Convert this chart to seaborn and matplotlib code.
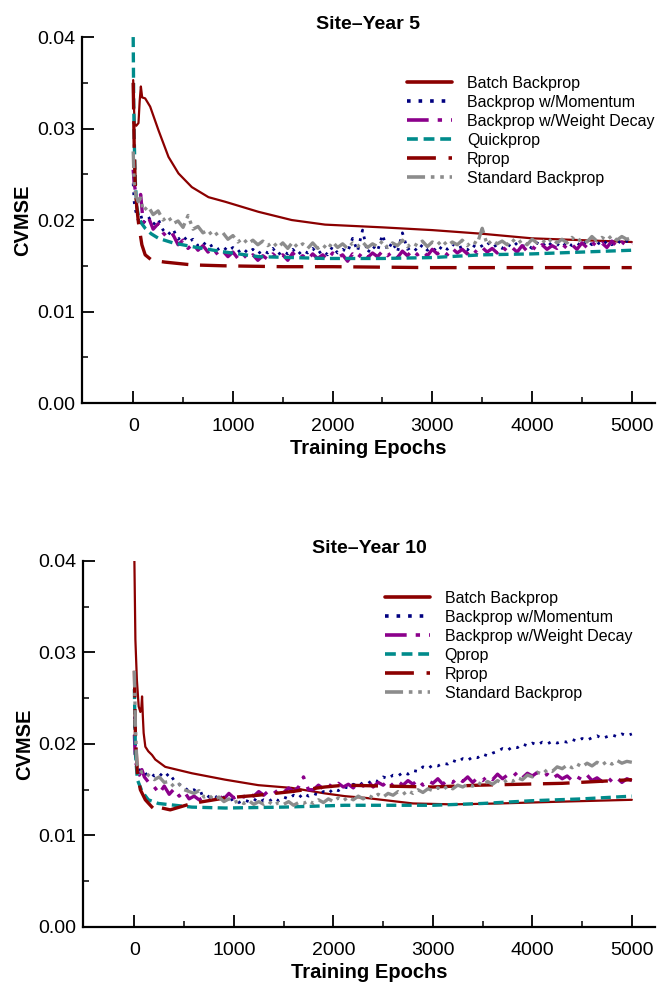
import matplotlib
matplotlib.use("Agg")
import matplotlib.pyplot as plt
from matplotlib.ticker import FixedLocator, FormatStrFormatter
import seaborn as sns
import pandas as pd

# CVMSE values below in units of 1e-3

# noisy series share one epoch grid
noisy_epochs = [0, 10, 25, 50, 75, 100, 150, 200, 250] + list(range(300, 5001, 50))

# ---- Site-Year 5 ----
y5_batch_epochs = [0, 5, 15, 30, 53, 65, 77, 90, 120, 170, 254, 354, 454, 588, 755, 922,
                   1256, 1590, 1924, 2500, 3000, 3500, 4000, 4500, 5000]
y5_batch = [35.3, 33.0, 30.5, 30.3, 30.6, 33.0, 34.6, 33.4, 33.3, 32.4, 29.8, 26.9, 25.1, 23.6, 22.5, 22.0,
            20.9, 20.0, 19.5, 19.2, 18.9, 18.5, 18.0, 17.8, 17.6]

y5_momentum = [24.0, 22.0, 21.0, 20.0, 20.6, 19.6, 20.4, 19.5, 20.1,
               18.9, 18.4, 19.0, 17.9, 18.3, 17.6, 17.9, 17.2, 17.6, 17.0,
               17.3, 16.8, 17.1, 16.6, 17.0, 16.5, 16.9, 16.4, 16.8, 16.3,
               16.7, 16.4, 16.9, 16.2, 16.6, 16.3, 16.8, 16.2, 16.7, 16.4,
               16.9, 16.3, 16.7, 16.2, 17.1, 16.4, 16.8, 16.5, 18.0, 16.6,
               18.9, 16.4, 17.2, 16.6, 18.4, 16.7, 17.6, 16.5, 18.6, 16.8,
               17.1, 16.6, 17.3, 16.7, 17.0, 16.5, 17.2, 16.8, 17.4, 16.9,
               17.1, 16.7, 17.3, 16.9, 17.2, 17.6, 17.0, 17.3, 16.9, 17.4,
               17.0, 17.5, 17.1, 17.3, 16.9, 17.5, 17.1, 17.7, 17.2, 17.4,
               17.0, 17.6, 17.2, 17.5, 17.1, 17.8, 17.3, 17.6, 17.2, 17.7,
               17.3, 17.8, 17.4, 17.7, 17.5]

y5_decay = [25.5, 24.0, 23.0, 21.9, 22.8, 19.7, 20.4, 19.0, 19.6,
            18.6, 18.0, 18.4, 17.3, 17.8, 16.9, 17.4, 16.7, 17.2, 16.5,
            16.9, 16.2, 16.6, 16.0, 16.5, 15.8, 16.3, 15.7, 16.2, 15.6,
            16.1, 15.7, 16.3, 15.8, 16.2, 15.6, 16.4, 15.8, 16.1, 15.7,
            16.3, 15.8, 16.2, 15.7, 16.4, 15.9, 16.2, 15.5, 16.3, 15.8,
            16.5, 15.9, 16.4, 16.0, 16.6, 16.1, 16.5, 15.9, 16.6, 16.1,
            16.7, 16.2, 16.6, 16.1, 16.8, 16.3, 16.7, 16.2, 16.9, 16.4,
            16.8, 16.3, 16.9, 16.4, 17.0, 16.5, 16.9, 16.4, 17.1, 16.6,
            17.0, 16.5, 17.2, 16.6, 17.1, 16.7, 17.3, 16.8, 17.2, 16.9,
            17.4, 16.9, 17.3, 16.8, 17.5, 17.0, 17.6, 17.1, 17.5, 17.0,
            17.7, 17.1, 17.6, 17.2, 17.5]

y5_quick_epochs = [0, 5, 10, 20, 35, 53, 80, 120, 180, 254, 400, 588, 750, 922,
                   1256, 1600, 1924, 2500, 3000, 3500, 4000, 4500, 5000]
y5_quick = [40.0, 33.0, 29.0, 24.5, 21.5, 20.4, 19.7, 19.1, 18.5, 18.0, 17.5, 17.1, 16.8, 16.5,
            16.0, 15.9, 15.8, 15.8, 15.9, 16.2, 16.3, 16.5, 16.7]

y5_rprop_epochs = [0, 10, 20, 35, 53, 87, 120, 187, 320, 588, 900, 1500, 2000, 3000, 4000, 5000]
y5_rprop = [35.0, 28.0, 24.0, 21.5, 19.7, 17.3, 16.2, 15.6, 15.4, 15.1, 15.0, 14.9, 14.9, 14.8, 14.8, 14.8]

y5_standard = [27.5, 24.0, 22.8, 22.0, 22.4, 21.0, 21.5, 20.6, 21.0,
               20.0, 20.4, 19.6, 19.9, 19.2, 20.5, 19.0, 19.3, 18.6, 18.9,
               18.2, 18.6, 18.6, 17.9, 18.3, 17.6, 18.0, 17.4, 17.8, 17.3,
               17.7, 17.2, 17.6, 17.0, 17.5, 16.9, 17.6, 17.0, 17.4, 16.9,
               17.5, 16.9, 17.3, 16.8, 17.6, 17.0, 17.4, 16.9, 17.5, 17.1,
               17.6, 17.0, 17.4, 17.1, 17.7, 17.0, 17.5, 17.2, 17.8, 17.1,
               17.5, 17.2, 17.7, 17.1, 17.6, 17.3, 17.8, 17.2, 17.6, 17.3,
               17.8, 17.2, 17.7, 17.4, 19.1, 17.3, 17.8, 17.4, 17.7, 17.3,
               17.9, 17.4, 17.8, 17.3, 17.9, 17.5, 17.8, 17.4, 18.0, 17.5,
               17.9, 17.5, 18.1, 17.6, 18.0, 17.6, 18.2, 17.7, 18.1, 17.8,
               18.3, 17.8, 18.2, 17.9, 18.1]

# ---- Site-Year 10 ----
y10_batch_epochs = [0, 10, 25, 43, 60, 70, 77, 85, 93, 110, 140, 177, 210, 310, 578, 912,
                    1245, 1580, 1914, 2114, 2330, 2800, 3200, 3670, 4300, 5000]
y10_batch = [40.0, 31.4, 27.0, 24.1, 23.5, 24.0, 25.2, 23.0, 21.2, 19.7, 19.2, 18.8, 18.3, 17.5, 16.8, 16.1,
             15.5, 15.2, 14.6, 14.3, 14.1, 13.5, 13.4, 13.5, 13.7, 13.9]

y10_momentum = [23.0, 19.5, 17.5, 17.2, 16.8, 16.6, 16.9, 16.5, 16.8,
                16.3, 16.8, 16.0, 15.6, 15.3, 14.8, 15.0, 14.5, 14.7, 14.2,
                14.4, 14.0, 14.2, 13.8, 14.0, 13.6, 13.9, 13.7, 14.0, 13.6,
                13.9, 13.7, 14.1, 13.8, 14.2, 14.0, 14.4, 14.1, 14.6, 14.3,
                14.6, 14.4, 14.8, 14.6, 15.1, 14.9, 15.3, 15.2, 15.6, 15.4,
                15.8, 15.7, 16.1, 15.9, 16.4, 16.2, 16.6, 16.5, 16.9, 16.7,
                17.1, 17.0, 17.5, 17.3, 17.7, 17.6, 17.9, 17.8, 18.2, 18.0,
                18.4, 18.2, 18.6, 18.5, 18.9, 18.7, 19.0, 19.2, 19.5, 19.3,
                19.7, 19.6, 20.0, 19.8, 20.1, 19.9, 20.2, 20.0, 20.3, 20.1,
                20.3, 20.2, 20.5, 20.3, 20.6, 20.4, 20.7, 20.9, 20.6, 20.8,
                21.0, 20.8, 21.1, 20.9, 21.1]

y10_decay = [21.0, 18.0, 17.6, 16.6, 17.2, 16.4, 15.7, 15.3, 14.6,
             15.4, 14.5, 15.1, 14.3, 14.8, 14.0, 14.3, 13.9, 14.2, 13.9,
             14.1, 14.3, 14.0, 14.6, 14.1, 14.5, 14.2, 14.7, 14.3, 14.8,
             14.4, 14.9, 14.6, 15.0, 14.7, 15.2, 14.8, 15.3, 16.4, 15.0,
             15.0, 15.5, 15.1, 15.6, 15.2, 15.7, 15.3, 15.6, 15.2, 15.8,
             15.4, 15.9, 15.3, 15.8, 15.5, 16.0, 15.4, 15.9, 15.5, 16.0,
             15.6, 16.1, 15.5, 16.0, 15.7, 16.2, 15.6, 16.1, 15.8, 16.3,
             15.9, 16.4, 15.8, 16.3, 16.0, 16.5, 16.1, 16.7, 16.2, 16.6,
             16.4, 16.9, 16.3, 16.8, 16.5, 16.9, 16.4, 16.7, 16.2, 16.6,
             16.2, 16.5, 16.0, 16.4, 16.1, 16.6, 16.0, 16.3, 15.9, 16.4,
             15.9, 16.3, 15.8, 16.2, 16.0]

y10_qprop_epochs = [0, 10, 30, 77, 140, 240, 578, 912, 1500, 2114, 2500, 3000,
                    3500, 4000, 4500, 5000]
y10_qprop = [26.0, 19.0, 16.1, 14.8, 13.9, 13.5, 13.1, 13.0, 13.1, 13.3, 13.3, 13.3,
             13.5, 13.8, 14.0, 14.3]

y10_rprop_epochs = [0, 10, 30, 60, 110, 177, 227, 277, 360, 578, 912, 1245, 1580, 1914,
                    2114, 2500, 3000, 3470, 4300, 5000]
y10_rprop = [28.0, 21.0, 16.8, 15.0, 13.9, 13.1, 12.6, 13.0, 12.8, 13.5, 14.1, 14.4, 14.8, 15.3,
             15.5, 15.4, 15.3, 15.5, 15.7, 16.1]

y10_standard = [28.0, 22.0, 17.8, 17.3, 16.9, 17.0, 16.5, 16.1, 16.4,
                15.8, 15.9, 15.3, 15.6, 15.0, 14.8, 14.6, 14.9, 14.2, 14.4,
                13.9, 14.2, 13.7, 14.0, 13.6, 13.8, 13.5, 13.8, 13.4, 13.7,
                13.4, 13.7, 13.3, 13.6, 13.4, 13.7, 13.3, 13.6, 13.5, 13.8,
                13.5, 13.9, 13.6, 14.0, 13.7, 14.1, 13.8, 14.2, 13.9, 14.3,
                14.0, 14.4, 14.1, 14.5, 14.2, 14.6, 14.4, 14.8, 14.5, 14.9,
                14.6, 15.0, 14.7, 15.1, 14.9, 15.2, 15.0, 15.4, 15.1, 15.5,
                15.3, 15.6, 15.4, 15.8, 15.5, 15.9, 15.6, 16.0, 15.7, 16.1,
                15.9, 16.3, 16.1, 16.6, 16.4, 16.9, 16.7, 17.2, 17.0, 17.5,
                17.3, 17.7, 17.4, 17.8, 17.5, 17.9, 17.6, 18.0, 17.7, 18.1,
                17.8, 18.2, 17.9, 18.1, 18.0]

labels_y5 = ["Batch Backprop", "Backprop w/Momentum", "Backprop w/Weight Decay",
             "Quickprop", "Rprop", "Standard Backprop"]
labels_y10 = ["Batch Backprop", "Backprop w/Momentum", "Backprop w/Weight Decay",
              "Qprop", "Rprop", "Standard Backprop"]

# color, linestyle, linewidth per legend slot
styles = [
    ("#8b0000", "-", 1.6),
    ("#000080", (0, (1, 2.2)), 2.0),
    ("#8b008b", (0, (6, 2.5, 1.2, 2.5)), 2.4),
    ("#008b8b", (0, (3, 1.6)), 2.4),
    ("#8b0000", (0, (8, 3.5)), 2.4),
    ("#8c8c8c", (0, (5, 1.6, 1, 1.6, 1, 1.6)), 2.4),
]

sns.set_style("ticks")
plt.rcParams["font.family"] = ["Liberation Sans", "DejaVu Sans"]
plt.rcParams["text.color"] = "black"
plt.rcParams["axes.labelcolor"] = "black"
plt.rcParams["xtick.color"] = "black"
plt.rcParams["ytick.color"] = "black"


def panel(ax, series, labels, title, anchor):
    for (x, y), name, (color, ls, lw) in zip(series, labels, styles):
        df = pd.DataFrame({"Epoch": x, "CVMSE": [v / 1000 for v in y]})
        sns.lineplot(data=df, x="Epoch", y="CVMSE", ax=ax, color=color,
                     linestyle=ls, linewidth=lw, label=name, estimator=None, sort=False)
    ax.set_xlim(-515, 5230)
    ax.set_ylim(0, 0.04)
    ax.xaxis.set_major_locator(FixedLocator([0, 1000, 2000, 3000, 4000, 5000]))
    ax.xaxis.set_minor_locator(FixedLocator([500, 1500, 2500, 3500, 4500]))
    ax.yaxis.set_major_locator(FixedLocator([0, 0.01, 0.02, 0.03, 0.04]))
    ax.yaxis.set_minor_locator(FixedLocator([0.005, 0.015, 0.025, 0.035]))
    ax.yaxis.set_major_formatter(FormatStrFormatter("%.2f"))
    ax.tick_params(which="major", direction="in", length=8.5, width=1.3,
                   labelsize=14, pad=5, color="black", labelcolor="black")
    ax.tick_params(axis="x", which="major", pad=11)
    ax.tick_params(which="minor", direction="in", length=4.5, width=1.1, color="black")
    sns.despine(ax=ax)
    for s in ("left", "bottom"):
        ax.spines[s].set_linewidth(1.6)
        ax.spines[s].set_color("black")
    ax.set_title(title, fontsize=14, fontweight="bold", pad=6, color="black")
    ax.set_xlabel("Training Epochs", fontsize=14.5, fontweight="bold", labelpad=3, color="black")
    ax.set_ylabel("CVMSE", fontsize=14.5, fontweight="bold", labelpad=3, color="black")
    leg = ax.legend(loc="upper left", bbox_to_anchor=anchor, bbox_transform=fig.transFigure,
                    frameon=False, fontsize=11.5, handlelength=2.8, handletextpad=0.95,
                    labelspacing=0.25, borderpad=0, borderaxespad=0)
    for t in leg.get_texts():
        t.set_color("black")
    for h in leg.get_lines():
        h.set_linewidth(2.6)


fig = plt.figure(figsize=(6.6, 9.83), dpi=100)
ax1 = fig.add_axes([0.124, 0.590, 0.868, 0.3723])
ax2 = fig.add_axes([0.126, 0.057, 0.866, 0.3723])

series_y5 = [(y5_batch_epochs, y5_batch), (noisy_epochs, y5_momentum), (noisy_epochs, y5_decay),
             (y5_quick_epochs, y5_quick), (y5_rprop_epochs, y5_rprop), (noisy_epochs, y5_standard)]
series_y10 = [(y10_batch_epochs, y10_batch), (noisy_epochs, y10_momentum), (noisy_epochs, y10_decay),
              (y10_qprop_epochs, y10_qprop), (y10_rprop_epochs, y10_rprop), (noisy_epochs, y10_standard)]

panel(ax1, series_y5, labels_y5, "Site\u2013Year 5", (0.617, 0.9227))
panel(ax2, series_y10, labels_y10, "Site\u2013Year 10", (0.583, 0.3988))

fig.savefig("out.png", dpi=100)
